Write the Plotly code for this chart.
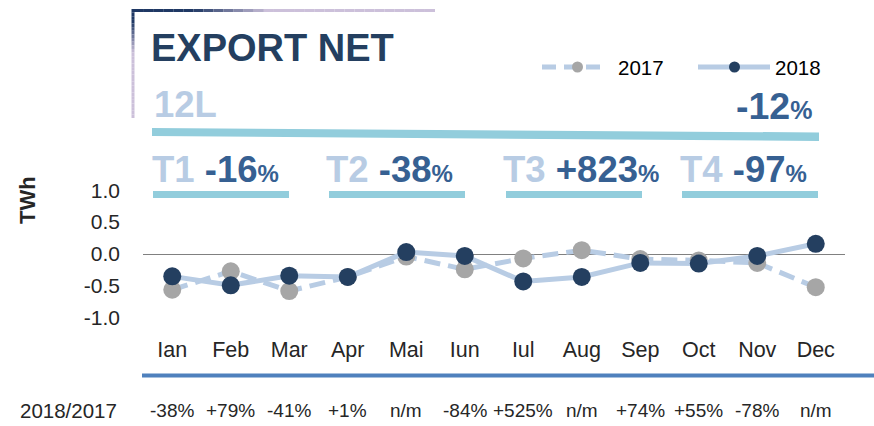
import plotly.graph_objects as go

# ---------------- data ----------------
months = ["Ian", "Feb", "Mar", "Apr", "Mai", "Iun", "Iul", "Aug", "Sep", "Oct", "Nov", "Dec"]
values_2017 = [-0.56, -0.27, -0.58, -0.36, -0.04, -0.24, -0.07, 0.06, -0.08, -0.10, -0.14, -0.52]
values_2018 = [-0.35, -0.49, -0.34, -0.36, 0.03, -0.03, -0.43, -0.36, -0.14, -0.15, -0.03, 0.16]
ratio_labels = ["-38%", "+79%", "-41%", "+1%", "n/m", "-84%", "+525%", "n/m", "+74%", "+55%", "-78%", "n/m"]
y_ticks = [1.0, 0.5, 0.0, -0.5, -1.0]
y_tick_text = ["1.0", "0.5", "0.0", "-0.5", "-1.0"]
quarters = ["T1", "T2", "T3", "T4"]
quarter_changes = ["-16", "-38", "+823", "-97"]
year_change = "-12"
series_names = ["2017", "2018"]

# ---------------- geometry ----------------
W, H = 874, 426
ML, MR, MT, MB = 143, 29, 171, 89
PW, PH = W - ML - MR, H - MT - MB

def px(x):
    return (x - ML) / PW

def py(y):
    return (H - MB - y) / PH

LIGHT = "#b8cce4"
NAVY = "#243f60"
MID = "#366092"
TEAL = "#92cddc"
GRAY = "#a6a6a6"
FONT = "Liberation Sans, Arial, sans-serif"

fig = go.Figure()
fig.add_trace(go.Scatter(
    x=months, y=values_2017, name=series_names[0], mode="lines+markers",
    line=dict(color=LIGHT, width=5, dash="16px,8px"),
    marker=dict(color=GRAY, size=18), showlegend=False, cliponaxis=False))
fig.add_trace(go.Scatter(
    x=months, y=values_2018, name=series_names[1], mode="lines+markers",
    line=dict(color=LIGHT, width=5),
    marker=dict(color=NAVY, size=18), showlegend=False, cliponaxis=False))

shapes = []
ann = []

# frame with gradient-like lines
def lerp(c1, c2, t):
    a = [int(c1[i:i + 2], 16) for i in (1, 3, 5)]
    b = [int(c2[i:i + 2], 16) for i in (1, 3, 5)]
    return "#%02x%02x%02x" % tuple(round(a[k] + (b[k] - a[k]) * t) for k in range(3))

def ramp(t, a, b):
    return min(1.0, max(0.0, (t - a) / (b - a)))

n = 30
for i in range(n):
    t = (i + 0.5) / n
    x0 = 133 + (435 - 133) * i / n
    x1 = 133 + (435 - 133) * (i + 1) / n
    shapes.append(dict(type="line", xref="paper", yref="paper", x0=px(x0), x1=px(x1),
                       y0=py(10.5), y1=py(10.5),
                       line=dict(color=lerp("#1f3864", "#ccc0da", ramp(t, 0.2, 0.45)), width=3)))
    y0 = 9 + (118 - 9) * i / n
    y1 = 9 + (118 - 9) * (i + 1) / n
    shapes.append(dict(type="line", xref="paper", yref="paper", x0=px(133), x1=px(133),
                       y0=py(y0), y1=py(y1),
                       line=dict(color=lerp("#1f3864", "#ccc0da", ramp(t, 0.12, 0.4)), width=3)))

# slanted band under 12L
shapes.append(dict(type="path", xref="paper", yref="paper",
                   path="M %f %f L %f %f L %f %f L %f %f Z" % (
                       px(152), py(128), px(819), py(132.5), px(819), py(141), px(152), py(136)),
                   fillcolor=TEAL, line=dict(width=0)))

# quarter bars
bar_x = [(153, 289), (329, 465), (506, 642), (682, 818)]
for (a, b) in bar_x:
    shapes.append(dict(type="rect", xref="paper", yref="paper", x0=px(a), x1=px(b),
                       y0=py(198), y1=py(191), fillcolor=TEAL, line=dict(width=0)))

# bottom blue rule
shapes.append(dict(type="line", xref="paper", yref="paper", x0=px(142), x1=px(874),
                   y0=py(375.5), y1=py(375.5), line=dict(color="#4f81bd", width=4)))

# legend
shapes.append(dict(type="line", xref="paper", yref="paper", x0=px(542), x1=px(604),
                   y0=py(67), y1=py(67), line=dict(color=LIGHT, width=5, dash="14px,8px")))
shapes.append(dict(type="circle", xref="paper", yref="paper", x0=px(572), x1=px(583),
                   y0=py(61.5), y1=py(72.5), fillcolor=GRAY, line=dict(width=0)))
shapes.append(dict(type="line", xref="paper", yref="paper", x0=px(698), x1=px(770),
                   y0=py(67), y1=py(67), line=dict(color=LIGHT, width=5)))
shapes.append(dict(type="circle", xref="paper", yref="paper", x0=px(729), x1=px(740),
                   y0=py(61.5), y1=py(72.5), fillcolor=NAVY, line=dict(width=0)))
ann.append(dict(xref="paper", yref="paper", x=px(616), y=py(67), xanchor="left", yanchor="middle",
                text=series_names[0], showarrow=False, font=dict(family=FONT, size=20.5, color="#000000")))
ann.append(dict(xref="paper", yref="paper", x=px(773), y=py(67), xanchor="left", yanchor="middle",
                text=series_names[1], showarrow=False, font=dict(family=FONT, size=20.5, color="#000000")))

# title + headline figures
ann.append(dict(xref="paper", yref="paper", x=px(149), y=py(48), xanchor="left", yanchor="middle",
                text="<b>EXPORT NET</b>", showarrow=False, font=dict(family=FONT, size=38, color=NAVY)))
ann.append(dict(xref="paper", yref="paper", x=px(152), y=py(105), xanchor="left", yanchor="middle",
                text="<b>12L</b>", showarrow=False, font=dict(family=FONT, size=36.5, color=LIGHT)))
ann.append(dict(xref="paper", yref="paper", x=px(814), y=py(106), xanchor="right", yanchor="middle",
                text="<b>%s</b><b style='font-size:25px'>%%</b>" % year_change, showarrow=False,
                font=dict(family=FONT, size=37.5, color=MID)))

q_x = [150, 324, 501, 678]
for q, c, x in zip(quarters, quarter_changes, q_x):
    ann.append(dict(xref="paper", yref="paper", x=px(x), y=py(169), xanchor="left", yanchor="middle",
                    text="<b style='color:%s'>%s</b> <b>%s</b><b style='font-size:24px'>%%</b>" % (LIGHT, q, c),
                    showarrow=False, font=dict(family=FONT, size=36.5, color=MID)))

# axis title
ann.append(dict(xref="paper", yref="paper", x=px(27), y=py(200), xanchor="center", yanchor="middle",
                text="<b>TWh</b>", textangle=-90, showarrow=False,
                font=dict(family=FONT, size=22, color="#262626")))

# bottom comparison row
ann.append(dict(xref="paper", yref="paper", x=px(18), y=py(410), xanchor="left", yanchor="middle",
                text="2018/2017", showarrow=False, font=dict(family=FONT, size=20.5, color="#262626")))
for m, r in zip(months, ratio_labels):
    ann.append(dict(xref="x", yref="paper", x=m, y=py(410), xanchor="center", yanchor="middle",
                    text=r, showarrow=False, font=dict(family=FONT, size=19, color="#262626")))

fig.update_layout(
    width=W, height=H,
    margin=dict(l=ML, r=MR, t=MT, b=MB, pad=0),
    paper_bgcolor="white", plot_bgcolor="white",
    showlegend=False,
    shapes=shapes, annotations=ann,
    xaxis=dict(type="category", categoryorder="array", categoryarray=months,
               range=[-0.5, 11.5], showgrid=False, zeroline=False, showline=False,
               ticks="", tickfont=dict(family=FONT, size=21.5, color="#262626"),
               ticklabelstandoff=-3, fixedrange=True),
    yaxis=dict(range=[-1.3, 1.3], tickvals=y_ticks, ticktext=y_tick_text, showgrid=False,
               zeroline=True, zerolinecolor="#808080", zerolinewidth=1, showline=False,
               ticks="", tickfont=dict(family=FONT, size=21, color="#262626"),
               ticklabelstandoff=22, fixedrange=True),
)

fig.write_html("out.html", config={"displayModeBar": False},
               post_script="document.body.style.margin='0';document.body.style.overflow='hidden';")
